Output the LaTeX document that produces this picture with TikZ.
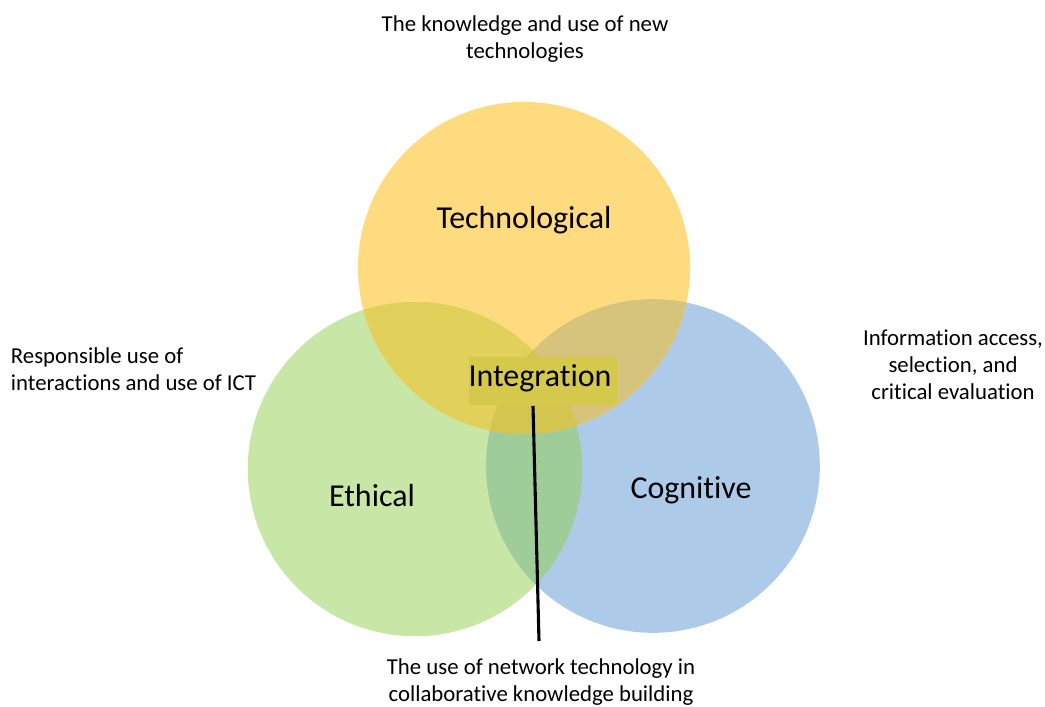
\documentclass[tikz,border=0pt]{standalone}
\usepackage{fontspec}
\setmainfont{Carlito}[RawFeature={-liga}]

\definecolor{techcol}{HTML}{FFDB80}
\definecolor{ethcol}{HTML}{C8E6A6}
\definecolor{cogcol}{HTML}{ADCBE9}
\definecolor{tecol}{HTML}{E1D15A}
\definecolor{tccol}{HTML}{D6C47C}
\definecolor{eccol}{HTML}{9FCD99}
\definecolor{allcol}{HTML}{D3C550}
\definecolor{boxcol}{HTML}{D5C94B}

\tikzset{
  area/.style={font=\fontsize{22.7}{26}\selectfont},
  note/.style={font=\fontsize{16.2}{19.3}\selectfont, align=center},
}

\begin{document}
\begin{tikzpicture}[x=0.025cm, y=-0.025cm]
  \useasboundingbox (0,0) rectangle (1045,707);

  % Define circles for the three dimensions
  \def\circleT{(524,268) circle (4.15cm)}
  \def\circleE{(415,469) circle (4.18cm)}
  \def\circleC{(653,466) circle (4.17cm)}

  % Base fills
  \fill[ethcol] \circleE;
  \fill[cogcol] \circleC;
  \fill[techcol] \circleT;

  % Pairwise overlaps
  \begin{scope}
    \clip \circleE;
    \fill[eccol] \circleC;
  \end{scope}

  \begin{scope}
    \clip \circleT;
    \fill[tecol] \circleE;
  \end{scope}

  \begin{scope}
    \clip \circleT;
    \fill[tccol] \circleC;
  \end{scope}

  % Centre, shared by all three
  \begin{scope}
    \clip \circleT;
    \clip \circleE;
    \fill[allcol] \circleC;
  \end{scope}

  % Labels inside the circles
  \node[area] (tech) at (524,220) {Technological};
  \node[area] (eth) at (372,496) {Ethical};
  \node[area] (cog) at (691,490) {Cognitive};
  \node[area, fill=boxcol, minimum width=3.7cm, minimum height=1.2cm] (integ) at (543,381) {};
  \node[area] (integtext) at (540,378) {Integration};

  % Descriptions around the diagram
  \node[note] (technote) at (525,39) {The knowledge and use of new\\technologies};
  \node[note, align=left, anchor=west] (ethnote) at (6,369) {Responsible use of\\interactions and use of ICT};
  \node[note] (cognote) at (953,365) {Information access,\\selection, and\hspace{0.5em}\\critical evaluation};
  \node[note] (integnote) at (541,682) {The use of network technology in\\collaborative knowledge building};

  % Pointer from the centre down to its description
  \coordinate (linktop) at (533,406);
  \coordinate (linkend) at (539,641);
  \draw[line width=2.2pt] (linktop) -- (linkend);
\end{tikzpicture}
\end{document}
